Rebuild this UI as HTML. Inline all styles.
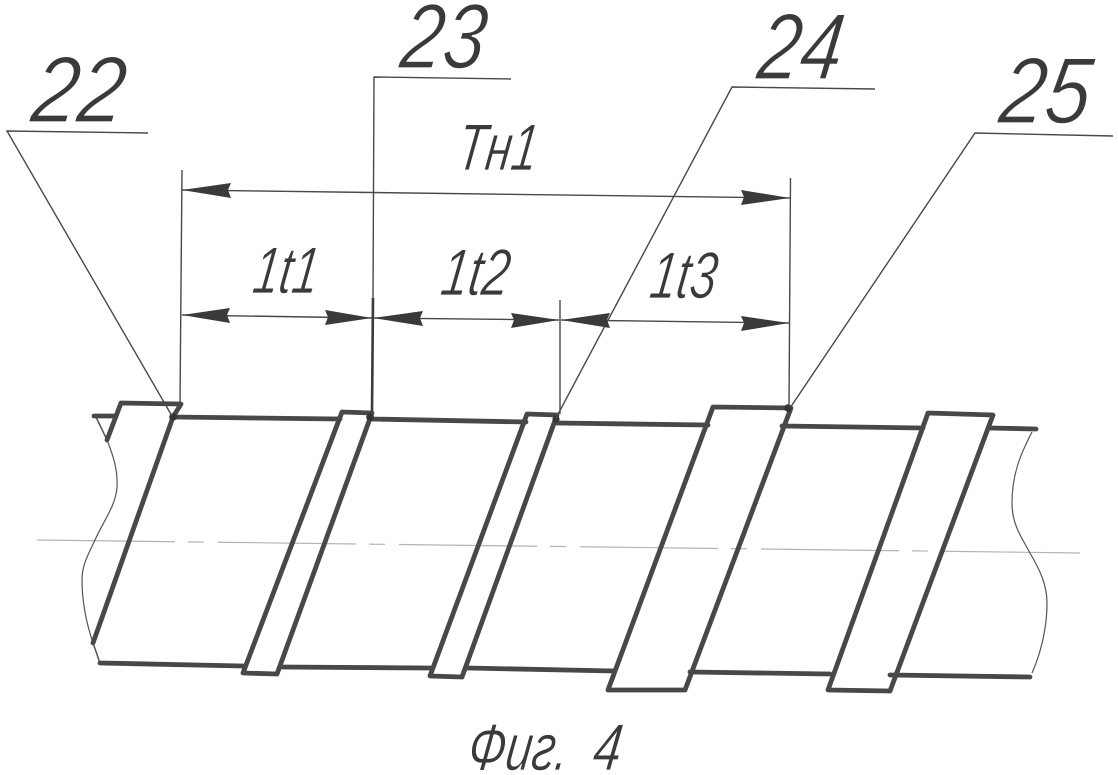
<!DOCTYPE html>
<html><head><meta charset="utf-8"><style>
html,body{margin:0;padding:0;background:#fff}
svg{display:block}
text{font-family:"Liberation Sans",sans-serif;font-style:italic;fill:#3a3a3a;stroke:#fff;paint-order:fill stroke}
</style></head><body>
<svg width="1118" height="775" viewBox="0 0 1118 775" xmlns="http://www.w3.org/2000/svg">
<rect width="1118" height="775" fill="#fff"/>
<!-- labels (drawn first so that the thinning stroke never covers lines) -->
<g style="stroke-width:1.3">
<text transform="translate(29,122) skewX(-8)" font-size="94" textLength="92" lengthAdjust="spacingAndGlyphs">22</text>
<text transform="translate(398,68) skewX(-8)" font-size="92" textLength="84" lengthAdjust="spacingAndGlyphs">23</text>
<text transform="translate(755,79) skewX(-8)" font-size="94" textLength="84" lengthAdjust="spacingAndGlyphs">24</text>
<text transform="translate(997,123) skewX(-8)" font-size="94" textLength="90" lengthAdjust="spacingAndGlyphs">25</text>
</g>
<g style="stroke-width:0.8">
<text transform="translate(455,170) skewX(-8)" font-size="66" textLength="80" lengthAdjust="spacingAndGlyphs">Тн1</text>
<text transform="translate(251,293) skewX(-8)" font-size="66" textLength="65" lengthAdjust="spacingAndGlyphs">1t1</text>
<text transform="translate(439,295) skewX(-8)" font-size="66" textLength="68" lengthAdjust="spacingAndGlyphs">1t2</text>
<text transform="translate(648,298) skewX(-8)" font-size="66" textLength="66" lengthAdjust="spacingAndGlyphs">1t3</text>
<text transform="translate(466,770) skewX(-8)" font-size="66" textLength="100" lengthAdjust="spacingAndGlyphs">Фиг.</text>
<text transform="translate(591,770) skewX(-8)" font-size="66" textLength="28" lengthAdjust="spacingAndGlyphs">4</text>
</g>
<!-- center line -->
<path d="M37 540L1082 553" stroke="#b4b4b4" stroke-width="1.2" stroke-dasharray="138 13 16 14" fill="none"/>
<!-- wavy breaks -->
<g stroke="#555" stroke-width="1.2" fill="none">
<path d="M107 440C113 455 118 470 117 487C116 505 104 520 95 540C88 555 82 565 82 580C82 605 88 628 93 643"/>
<path d="M1032 432C1020 455 1012 475 1012 503C1012 525 1022 538 1030 553C1040 570 1047 585 1047 603C1047 630 1040 655 1032 673"/>
<path d="M96 417L107 440M93 643L100 663" stroke-width="1.5"/>
</g>
<!-- body outline -->
<g stroke="#484848" stroke-width="4.8" fill="none" stroke-linecap="round" stroke-linejoin="round">
<path d="M94 416L116 416M173 417L340 419M370 419L526 422M556 423L708 425M782 426L923 428M990 428L1036 429"/>
<path d="M100 663L243 666M280 667L430 668M468 668L614 671M690 672L830 674M890 675L1030 677"/>
<path d="M107 440L121 403L181 404L173 417L93 643"/>
<path d="M243 673L342 412L372 413L277 674Z"/>
<path d="M430 676L527 414L557 415L462 677Z"/>
<path d="M608 690L713 407L791 408L685 690Z"/>
<path d="M828 690L928 413L993 415L890 691Z"/>
</g>
<g fill="#333">
<circle cx="173" cy="417" r="3.8"/><circle cx="370" cy="417" r="3.8"/><circle cx="556" cy="419" r="3.6"/><circle cx="788" cy="408" r="3.8"/>
</g>
<!-- leaders -->
<g stroke="#484848" stroke-width="1.4" fill="none">
<path d="M148 133L7 131L172 416"/>
<path d="M511 79L374 77L373 300"/>
<path d="M875 89L732 87L556 418"/>
<path d="M1113 136L975 133L790 408"/>
<!-- extension lines -->
<path d="M182 170L180 404"/>
<path d="M560 300L560 414"/>
<path d="M790.5 178L789 406"/>
<!-- dimension lines -->
<path d="M182 190L790 198"/>
<path d="M182 315L372 318"/>
<path d="M373 318L559 320"/>
<path d="M561 320L789 323"/>
</g>
<path d="M373 298L372 412" stroke="#3a3a3a" stroke-width="2.6" fill="none"/>
<!-- arrowheads -->
<g fill="#3a3a3a">
<path d="M182 190L231 183L228 190L231 198Z"/>
<path d="M790 198L741 190L744 197L741 205Z"/>
<path d="M182 315L230 308L227 315L230 323Z"/>
<path d="M372 318L325 310L328 317L325 325Z"/>
<path d="M373 318L423 311L420 318L423 326Z"/>
<path d="M559 320L511 313L514 320L511 328Z"/>
<path d="M561 320L610 313L607 320L610 328Z"/>
<path d="M789 323L741 316L744 323L741 331Z"/>
</g>
</svg>
</body></html>
